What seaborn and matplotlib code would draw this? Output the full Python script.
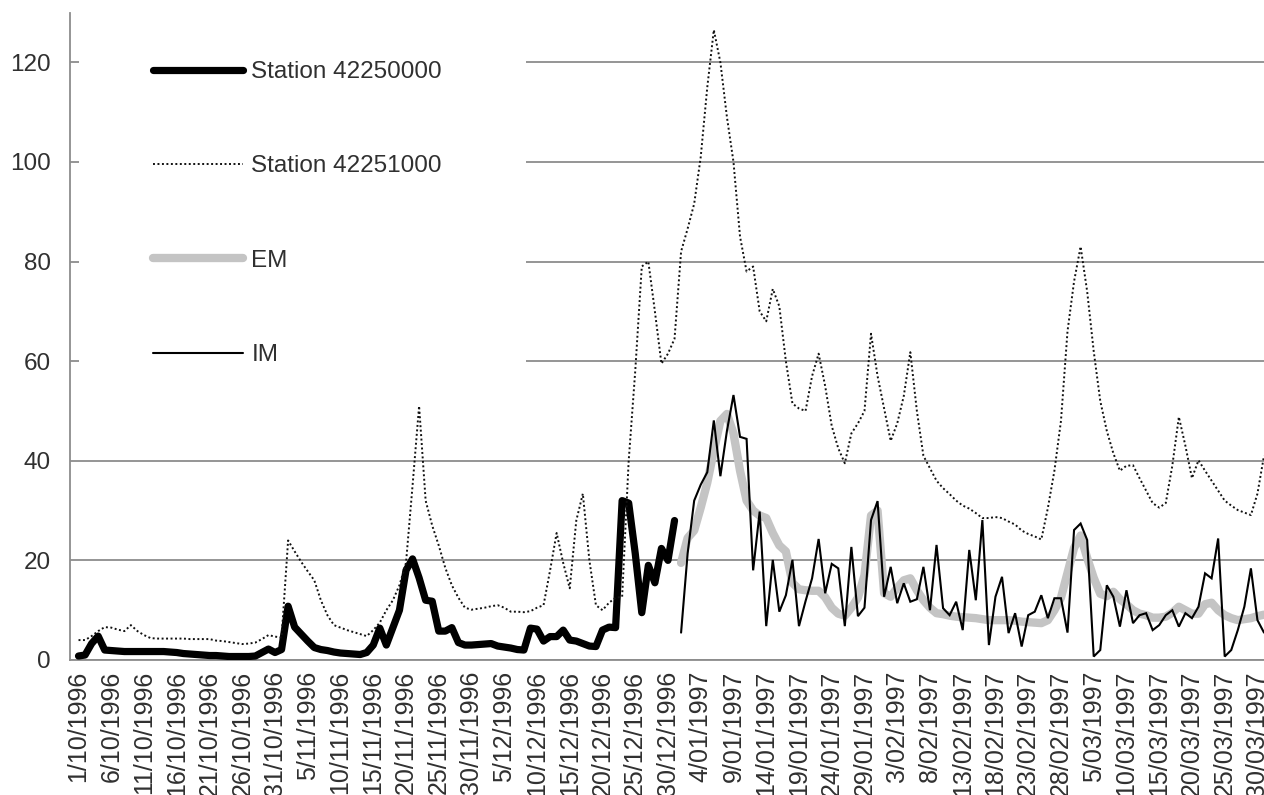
import numpy as np
import pandas as pd
import matplotlib
matplotlib.use("Agg")
import matplotlib.pyplot as plt
from matplotlib.lines import Line2D
from matplotlib.patches import Rectangle
import seaborn as sns

# Daily discharge, 1/10/1996 .. 31/03/1997 (day 0 = 1/10/1996)
dates = pd.date_range("1996-10-01", "1997-03-31", freq="D")

# Station 42250000: observed 1/10/1996 .. 31/12/1996
station_42250000 = [
    0.8, 1.0, 3.3, 4.8, 2.0, 1.9, 1.8, 1.7, 1.7, 1.7,
    1.7, 1.7, 1.7, 1.7, 1.6, 1.5, 1.3, 1.2, 1.1, 1.0,
    0.9, 0.9, 0.8, 0.7, 0.7, 0.7, 0.7, 0.8, 1.5, 2.2,
    1.5, 2.1, 10.8, 6.6, 5.2, 3.8, 2.5, 2.1, 1.9, 1.6,
    1.4, 1.3, 1.2, 1.1, 1.5, 3.0, 6.4, 3.0, 6.5, 10.0,
    18.0, 20.3, 16.5, 12.0, 11.8, 5.8, 5.8, 6.5, 3.5, 3.0,
    3.0, 3.1, 3.2, 3.3, 2.8, 2.6, 2.4, 2.1, 2.0, 6.4,
    6.2, 3.8, 4.7, 4.7, 6.0, 4.0, 3.8, 3.3, 2.8, 2.7,
    6.0, 6.6, 6.5, 32.0, 31.5, 21.4, 9.5, 19.0, 15.5, 22.4,
    20.0, 28.0,
]

# Station 42251000: observed over the whole period
station_42251000 = [
    4.0, 4.0, 4.8, 5.8, 6.6, 6.5, 6.1, 5.8, 7.0, 5.8,
    5.0, 4.4, 4.3, 4.3, 4.3, 4.3, 4.3, 4.2, 4.2, 4.2,
    4.2, 3.9, 3.8, 3.6, 3.4, 3.2, 3.3, 3.5, 4.2, 5.0,
    4.7, 4.5, 24.0, 21.8, 19.7, 17.8, 16.0, 12.0, 9.0, 7.0,
    6.5, 6.0, 5.6, 5.2, 4.8, 6.0, 7.5, 10.0, 12.0, 15.0,
    19.5, 35.0, 51.0, 32.0, 27.0, 23.0, 18.5, 15.0, 12.5, 10.5,
    10.1, 10.3, 10.5, 10.8, 11.0, 10.5, 9.7, 9.7, 9.6, 9.8,
    10.5, 11.0, 18.0, 25.5, 19.5, 14.4, 28.0, 33.4, 20.0, 11.0,
    10.0, 11.5, 12.5, 12.7, 40.0, 58.0, 79.0, 80.0, 70.0, 59.5,
    61.5, 64.5, 82.0, 86.6, 91.6, 101.0, 115.0, 126.5, 120.0, 109.0,
    100.0, 85.0, 78.0, 79.0, 70.0, 68.0, 74.5, 71.0, 60.0, 51.5,
    50.5, 50.0, 57.0, 61.5, 55.0, 47.0, 42.5, 39.5, 45.5, 47.5,
    50.0, 65.5, 57.0, 50.5, 44.0, 47.5, 53.0, 61.8, 50.0, 41.0,
    38.5, 36.0, 34.5, 33.3, 32.0, 31.0, 30.4, 29.5, 28.5, 28.5,
    28.7, 28.5, 27.8, 27.2, 26.0, 25.3, 24.8, 24.2, 30.5, 38.0,
    48.0, 66.0, 76.0, 83.0, 74.0, 62.0, 52.0, 46.0, 41.5, 38.0,
    39.0, 39.1, 36.5, 34.0, 31.5, 30.6, 31.5, 39.0, 48.8, 43.0,
    36.5, 40.1, 38.0, 36.0, 34.0, 32.0, 31.0, 30.1, 29.6, 29.1,
    33.4, 41.0,
]

# Model results for Station 42250000, 1/01/1997 .. 31/03/1997
em = [
    19.5, 24.5, 26.0, 30.6, 35.6, 42.0, 48.0, 49.4, 45.5, 38.0,
    32.0, 30.0, 29.0, 28.5, 25.5, 23.0, 21.8, 15.5, 14.2, 14.0,
    13.9, 13.9, 12.6, 10.5, 9.3, 8.9, 10.5, 12.5, 17.0, 29.0,
    30.0, 13.4, 12.7, 14.5, 16.0, 16.4, 14.0, 12.0, 10.5, 9.4,
    9.2, 8.9, 8.7, 8.6, 8.5, 8.4, 8.2, 8.0, 8.0, 8.0,
    8.0, 7.9, 7.7, 7.6, 7.5, 7.4, 8.0, 10.0, 12.5, 17.5,
    22.5, 25.0, 20.5, 16.5, 13.3, 12.8, 13.7, 12.2, 11.2, 10.0,
    9.3, 9.0, 8.5, 8.5, 8.7, 9.5, 10.7, 10.0, 9.3, 9.3,
    11.2, 11.5, 10.0, 9.0, 8.4, 8.0, 8.2, 8.4, 8.8, 9.1,
]
im = [
    5.5, 21.4, 32.0, 35.2, 37.7, 48.1, 36.9, 46.0, 53.2, 44.8,
    44.4, 18.0, 29.8, 6.8, 20.1, 9.7, 13.0, 20.1, 6.8, 11.8,
    16.4, 24.3, 13.4, 19.3, 18.4, 6.8, 22.7, 8.8, 10.5, 28.1,
    31.9, 12.7, 18.7, 11.4, 15.4, 11.7, 12.2, 18.7, 10.0, 23.1,
    10.4, 9.0, 11.7, 6.0, 22.1, 12.0, 28.1, 3.0, 12.7, 16.7,
    5.4, 9.4, 2.7, 9.0, 9.7, 13.0, 8.4, 12.4, 12.4, 5.5,
    26.1, 27.4, 24.1, 0.7, 2.0, 15.0, 12.7, 6.7, 14.0, 7.4,
    9.0, 9.4, 6.0, 7.0, 9.0, 10.0, 6.7, 9.4, 8.4, 10.7,
    17.4, 16.4, 24.4, 0.7, 2.0, 6.0, 10.7, 18.4, 8.0, 5.5,
]

tick_labels = [
    "1/10/1996", "6/10/1996", "11/10/1996", "16/10/1996", "21/10/1996",
    "26/10/1996", "31/10/1996", "5/11/1996", "10/11/1996", "15/11/1996",
    "20/11/1996", "25/11/1996", "30/11/1996", "5/12/1996", "10/12/1996",
    "15/12/1996", "20/12/1996", "25/12/1996", "30/12/1996", "4/01/1997",
    "9/01/1997", "14/01/1997", "19/01/1997", "24/01/1997", "29/01/1997",
    "3/02/1997", "8/02/1997", "13/02/1997", "18/02/1997", "23/02/1997",
    "28/02/1997", "5/03/1997", "10/03/1997", "15/03/1997", "20/03/1997",
    "25/03/1997", "30/03/1997",
]
series_names = ["Station 42250000", "Station 42251000", "EM", "IM"]

# ---------------------------------------------------------------- frames
day = np.arange(len(dates))
start_model = len(station_42250000)
df_a = pd.DataFrame({"day": day[:start_model], "q": station_42250000})
df_b = pd.DataFrame({"day": day, "q": station_42251000})
df_em = pd.DataFrame({"day": day[start_model:], "q": em})
df_im = pd.DataFrame({"day": day[start_model:], "q": im})

# ---------------------------------------------------------------- style
sns.set_theme(style="white")
plt.rcParams["font.family"] = ["Liberation Sans", "DejaVu Sans"]

W, H = 1264, 795
fig = plt.figure(figsize=(W / 100, H / 100), dpi=100)
ax = fig.add_axes([70 / W, (H - 660) / H, (W - 70) / W, (660 - 12.5) / H])

grid_c = "#8c8c8c"
text_c = "#303030"
fs = 17.5

styles = [
    dict(color="black", lw=5.2, solid_capstyle="round", solid_joinstyle="round"),
    dict(color="#111111", lw=1.4, linestyle=(0, (1, 1.3)), dash_capstyle="butt"),
    dict(color="#c4c4c4", lw=6.0, solid_capstyle="round", solid_joinstyle="round"),
    dict(color="black", lw=1.5, solid_joinstyle="miter"),
]

for i, frame in enumerate([df_a, df_b, df_em, df_im]):
    sns.lineplot(data=frame, x="day", y="q", ax=ax, errorbar=None,
                 legend=False, zorder=3 + i, **styles[i])

# ---------------------------------------------------------------- axes
ax.set_xlim(-1.3, 180.72)
ax.set_ylim(0, 130)
ax.set_xlabel("")
ax.set_ylabel("")

ax.set_yticks(np.arange(0, 121, 20))
ax.set_xticks(day[::5])
ax.set_xticklabels(tick_labels, rotation=90)
ax.set_xticks(np.arange(-1, 182), minor=True)

ax.set_axisbelow(True)
ax.grid(axis="y", color=grid_c, lw=1.3)
ax.grid(axis="x", visible=False)

for side in ["top", "right"]:
    ax.spines[side].set_visible(False)
for side in ["left", "bottom"]:
    ax.spines[side].set_color(grid_c)
    ax.spines[side].set_linewidth(1.3)

ax.tick_params(axis="y", which="major", direction="inout", length=12,
               width=1.2, color=grid_c, labelsize=fs, labelcolor=text_c, pad=8)
ax.tick_params(axis="x", which="both", direction="out", length=5,
               width=1.0, color=grid_c, labelsize=18, labelcolor=text_c, pad=3)

# white legend panel over the upper-left part of the gridlines
ax.add_patch(Rectangle((0.0075, 0.405), 0.374, 0.6, transform=ax.transAxes,
                       facecolor="white", edgecolor="none", zorder=1))

handles = [Line2D([0], [0], **s) for s in styles]
ax.legend(handles, series_names, loc="upper left",
          bbox_to_anchor=(153 / W, 1 - 61 / H), bbox_transform=fig.transFigure,
          frameon=False, fontsize=fs, handlelength=3.7, handletextpad=0.35,
          labelspacing=2.98, borderpad=0, borderaxespad=0, labelcolor=text_c)

fig.savefig("out.png", dpi=100)
